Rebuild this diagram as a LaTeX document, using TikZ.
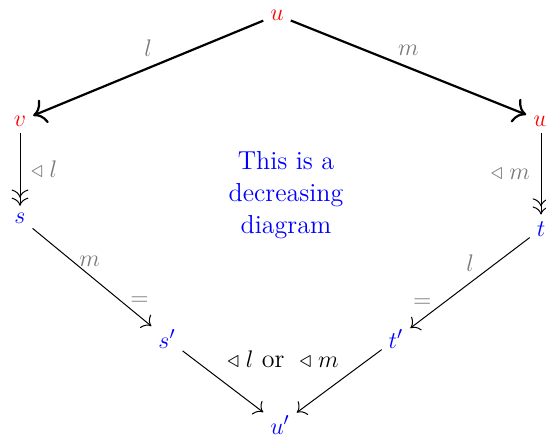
\documentclass[tikz,border=0pt]{standalone}
\usepackage{amssymb}
\usetikzlibrary{arrows.meta}
\begin{document}
\begin{tikzpicture}[x=0.5pt,y=-0.5pt,
  >={To[scale=1.5]},
  every node/.style={font=\fontsize{13}{16}\selectfont},
  top/.style={text=red},
  bot/.style={text=blue},
  lab/.style={text=gray!95!black},
  thickarr/.style={->,line width=1.1pt},
  thinarr/.style={->,line width=0.5pt},
  dblarr/.style={->>,line width=0.5pt}]
\useasboundingbox (0,0) rectangle (546,439);
\node[top] (u) at (277,15) {$u$};
\node[top] (v) at (20,121) {$v$};
\node[top] (w) at (542,121) {$w$};
\node[bot] (s) at (20,218) {$s$};
\node[bot] (t) at (541,229) {$t$};
\node[bot] (s2) at (167,339) {$s'$};
\node[bot] (t2) at (396,339) {$t'$};
\node[bot] (u2) at (280,425) {$u'$};
\node[text=blue,align=center] (txt) at (286,195) {This is a\\decreasing\\diagram};
\node (or) at (283,359) {$\triangleleft\;l$ or $\;\triangleleft\;m$};
\draw[thickarr] (u) -- node[lab,midway,above=2pt] (lu) {$l$} (v);
\draw[thickarr] (u) -- node[lab,midway,above=2pt] (lw) {$m$} (w);
\draw[dblarr] (v) -- node[lab,midway,right=2pt] (lv) {$\triangleleft\;l$} (s);
\draw[dblarr] (w.south -| t) -- node[lab,midway,left=2pt] (lt) {$\triangleleft\;m$} (t);
\draw[thinarr] (s) -- node[lab,pos=0.48,above=1pt] (ls1) {$m$}
  node[lab,pos=0.9,above=2pt] (ls2) {$=$} (s2);
\draw[thinarr] (t) -- node[lab,pos=0.5,above=2pt] (lt1) {$l$}
  node[lab,pos=0.9,above=2pt] (lt2) {$=$} (t2);
\draw[thinarr] (s2) -- (u2);
\draw[thinarr] (t2) -- (u2);
\end{tikzpicture}
\end{document}
